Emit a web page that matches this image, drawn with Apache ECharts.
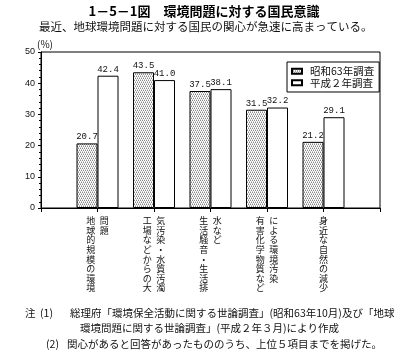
<!DOCTYPE html>
<html><head><meta charset="utf-8">
<script src="https://cdn.jsdelivr.net/npm/echarts@6/dist/echarts.min.js"></script>
<style>html,body{margin:0;padding:0;background:#fff}#c{width:408px;height:354px}</style>
</head><body><div id="c"></div>
<script>
const categories = ['地球的規模の環境問題','工場などからの大気汚染・水質汚濁','生活騒音・生活排水など','有害化学物質などによる環境汚染','身近な自然の減少'];
const seriesNames = ['昭和63年調査','平成２年調査'];
const valuesS63 = [20.7, 43.5, 37.5, 31.5, 21.2];
const valuesH2 = [42.4, 41.0, 38.1, 32.2, 29.1];
const yMin = 0, yMax = 50, yStep = 10;
const titleText = '1－5－1図　環境問題に対する国民意識';
const subtitleText = '最近、地球環境問題に対する国民の関心が急速に高まっている。';
const unitText = '(%)';
const notes = [
  ['注', '(1)', '総理府「環境保全活動に関する世論調査」(昭和63年10月)及び「地球'],
  ['', '', '環境問題に関する世論調査」(平成２年３月)により作成'],
  ['', '(2)', '関心があると回答があったもののうち、上位５項目までを掲げた。']
];

const JP = '"Noto Sans CJK JP", sans-serif';
const COL = 8;

function makePattern(){
  const c = document.createElement('canvas'); c.width = 4; c.height = 4;
  const g = c.getContext('2d');
  g.fillStyle = '#fff'; g.fillRect(0,0,4,4);
  g.fillStyle = '#8a8a8a';
  [[0,0],[2,0],[1,2],[3,2]].forEach(p => g.fillRect(p[0],p[1],1,1));
  g.fillStyle = '#c4c4c4';
  [[1,1],[3,1],[0,3],[2,3]].forEach(p => g.fillRect(p[0],p[1],1,1));
  return c;
}
const hatch = {image: makePattern(), repeat: 'repeat'};

function vertical(name){
  if (!name) return '';
  const a = Array.from(name.slice(0, COL));
  const b = Array.from(name.slice(COL));
  const lines = [];
  for (let i = 0; i < COL; i++){
    const c1 = a[i] || '　';
    if (b.length === 0) lines.push(c1);
    else lines.push(c1 + '\u2002' + (b[i] || '　'));
  }
  return lines.join('\n');
}

const chart = echarts.init(document.getElementById('c'));
const noteTitles = [];
const noteY = [308, 323, 339];
const noteX = [25, 40, 70];
notes.forEach((row, r) => {
  row.forEach((t, k) => {
    if (!t) return;
    let x = noteX[k];
    if (r === 1 && k === 2) x = 80;
    if (r === 2 && k === 1) x = 46;
    if (r === 2 && k === 2) x = 67;
    noteTitles.push({text: t, left: x, top: noteY[r], padding: 0,
      textStyle: {fontSize: 10.5, fontWeight: 'normal', color: '#111', fontFamily: JP}});
  });
});

chart.setOption({
  animation: false,
  backgroundColor: '#fff',
  title: [
    {text: titleText, left: 'center', top: 5, padding: 0,
     textStyle: {fontSize: 13, fontWeight: 'bold', color: '#000', fontFamily: JP}},
    {text: subtitleText, left: 39, top: 21, padding: 0,
     textStyle: {fontSize: 11.5, fontWeight: 'normal', color: '#111', fontFamily: JP}},
    {text: unitText, left: 37, top: 39, padding: 0,
     textStyle: {fontSize: 10, fontWeight: 'normal', color: '#111', fontFamily: JP}}
  ].concat(noteTitles),
  legend: {
    orient: 'vertical', left: 287, top: 62, padding: [4, 5, 4, 4],
    itemWidth: 10, itemHeight: 5, itemGap: 1,
    borderColor: '#000', borderWidth: 1,
    icon: 'rect',
    textStyle: {fontSize: 10.5, color: '#111', fontFamily: JP, padding: [0,0,0,3]},
    data: seriesNames
  },
  grid: {left: 41, right: 28, top: 52, bottom: 146, show: true, borderColor: '#000', borderWidth: 1, backgroundColor: 'transparent'},
  xAxis: {
    type: 'category', boundaryGap: false,
    data: [''].concat(categories, ['']),
    axisLine: {lineStyle: {color: '#000', width: 1}},
    axisTick: {show: true, length: 4, lineStyle: {color: '#000'}},
    axisLabel: {interval: 0, margin: 8, fontSize: 9, lineHeight: 9.6, color: '#111', fontFamily: JP,
      formatter: v => vertical(v)},
    splitLine: {show: false}
  },
  yAxis: {
    type: 'value', min: yMin, max: yMax, interval: yStep,
    axisLine: {show: true, lineStyle: {color: '#000', width: 1}},
    axisTick: {show: true, length: 3, lineStyle: {color: '#000'}},
    minorTick: {show: true, splitNumber: 5, length: 2, lineStyle: {color: '#000'}},
    axisLabel: {margin: 6, fontSize: 9, color: '#111', fontFamily: '"Liberation Sans", sans-serif'},
    splitLine: {show: false}
  },
  series: [
    {name: seriesNames[0], type: 'bar', barWidth: 21, barGap: '0%',
     data: [null].concat(valuesS63, [null]),
     itemStyle: {color: hatch, borderColor: '#000', borderWidth: 1},
     label: {show: true, position: 'top', distance: 2, fontSize: 9, color: '#111',
       fontFamily: '"Liberation Mono", monospace', formatter: p => p.value.toFixed(1)}},
    {name: seriesNames[1], type: 'bar', barWidth: 21, barGap: '0%',
     data: [null].concat(valuesH2, [null]),
     itemStyle: {color: '#fff', borderColor: '#000', borderWidth: 1},
     label: {show: true, position: 'top', distance: 2, fontSize: 9, color: '#111',
       fontFamily: '"Liberation Mono", monospace', formatter: p => p.value.toFixed(1)}}
  ]
});
</script></body></html>
